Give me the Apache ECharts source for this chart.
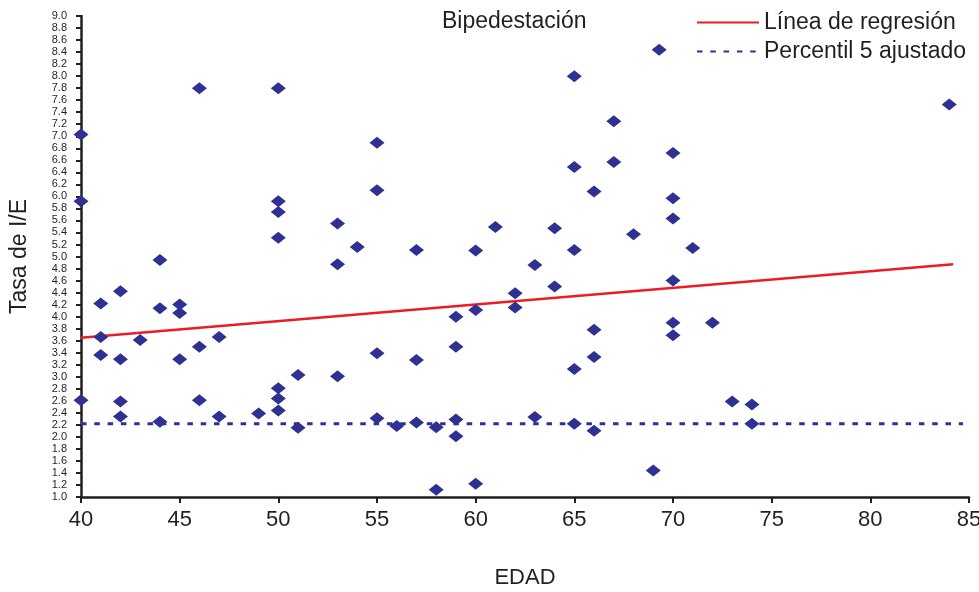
<!DOCTYPE html>
<html>
<head>
<meta charset="utf-8">
<script src="https://cdn.jsdelivr.net/npm/echarts@6/dist/echarts.min.js"></script>
<style>
  html, body { margin: 0; padding: 0; background: #fff; }
  #chart { width: 979px; height: 592px; }
</style>
</head>
<body>
<div id="chart"></div>
<script>
// edad (x) y tasa de I/E (y) de cada sujeto
const edad = [
  40, 40, 40, 41, 41, 41, 42, 42, 42, 42, 43, 44, 44, 44, 45, 45, 45,
  46, 46, 46, 47, 47, 49, 50, 50, 50, 50, 50, 50, 50, 51, 51,
  53, 53, 53, 54, 55, 55, 55, 55, 56, 57, 57, 57, 58, 58,
  59, 59, 59, 59, 60, 60, 60, 61, 62, 62, 63, 63, 64, 64,
  65, 65, 65, 65, 65, 66, 66, 66, 66, 67, 67, 68, 69, 69.3,
  70, 70, 70, 70, 70, 70, 71, 72, 73, 74, 74, 84
];
const tasa = [
  7.03, 5.92, 2.61, 4.22, 3.66, 3.36, 4.42, 3.29, 2.59, 2.34, 3.61, 4.94, 4.14, 2.25, 4.2, 4.06, 3.29,
  7.8, 3.5, 2.61, 3.66, 2.34, 2.39, 7.8, 5.92, 5.74, 5.31, 2.81, 2.64, 2.44, 3.03, 2.15,
  5.55, 4.87, 3.01, 5.16, 6.89, 6.1, 3.39, 2.31, 2.18, 5.11, 3.28, 2.24, 2.16, 1.12,
  4.0, 3.5, 2.29, 2.01, 5.1, 4.11, 1.22, 5.49, 4.39, 4.15, 4.86, 2.33, 5.47, 4.5,
  8.0, 6.49, 5.11, 3.13, 2.22, 6.08, 3.78, 3.33, 2.1, 7.25, 6.57, 5.37, 1.44, 8.44,
  6.72, 5.97, 5.63, 4.6, 3.9, 3.69, 5.14, 3.9, 2.59, 2.54, 2.22, 7.53
];

// extremos de las lineas
const regresionX = [40, 84.2];
const regresionY = [3.65, 4.87];
const percentilX = [40, 84.7];
const percentilY = [2.22, 2.22];

const xTicks = [40, 85, 5];
const yTicks = [1, 9, 0.2];

const puntos = edad.map((x, i) => [x, tasa[i]]);
const regresion = regresionX.map((x, i) => [x, regresionY[i]]);
const percentil = percentilX.map((x, i) => [x, percentilY[i]]);

const chart = echarts.init(document.getElementById('chart'));
const axisColor = '#231f20';

chart.setOption({
  animation: false,
  textStyle: { fontFamily: 'Liberation Sans, Arial, sans-serif', color: axisColor },
  title: {
    text: 'Bipedestación',
    left: 437,
    top: 5,
    textStyle: { fontSize: 23, fontWeight: 'normal', color: axisColor }
  },
  legend: {
    orient: 'vertical',
    left: 691,
    top: 6,
    itemWidth: 62,
    itemHeight: 14,
    itemGap: 6,
    data: [
      { name: 'Línea de regresión', itemStyle: { opacity: 0 } },
      { name: 'Percentil 5 ajustado', itemStyle: { opacity: 0 } }
    ],
    textStyle: { fontSize: 23, color: axisColor }
  },
  grid: { left: 81, right: 10, top: 16, bottom: 95, outerBoundsMode: 'none' },
  xAxis: {
    type: 'value',
    min: xTicks[0],
    max: xTicks[1],
    interval: xTicks[2],
    name: 'EDAD',
    nameLocation: 'middle',
    nameGap: 70,
    nameTextStyle: { fontSize: 22, color: axisColor },
    axisLine: { show: true, lineStyle: { color: axisColor, width: 2.5 } },
    axisTick: { show: true, length: 6, lineStyle: { color: axisColor, width: 2 } },
    axisLabel: { fontSize: 22, color: axisColor, margin: 12 },
    splitLine: { show: false }
  },
  yAxis: {
    type: 'value',
    min: yTicks[0],
    max: yTicks[1],
    interval: yTicks[2],
    name: 'Tasa de I/E',
    nameLocation: 'middle',
    nameGap: 50,
    nameRotate: 90,
    nameTextStyle: { fontSize: 23, color: axisColor },
    axisLine: { show: true, lineStyle: { color: axisColor, width: 2.5 } },
    axisTick: { show: true, length: 5, lineStyle: { color: axisColor, width: 2 } },
    axisLabel: {
      fontSize: 11,
      fontFamily: 'Liberation Sans Narrow, Liberation Sans, sans-serif',
      color: axisColor,
      margin: 14,
      formatter: v => v.toFixed(1)
    },
    splitLine: { show: false }
  },
  series: [
    {
      name: 'Datos',
      type: 'scatter',
      symbol: 'diamond',
      symbolSize: [15, 12],
      itemStyle: { color: '#2e3192', opacity: 1 },
      data: puntos,
      z: 3
    },
    {
      name: 'Línea de regresión',
      type: 'line',
      symbol: 'none',
      lineStyle: { color: '#ed1c24', width: 2.5 },
      itemStyle: { color: '#ed1c24' },
      data: regresion,
      z: 2
    },
    {
      name: 'Percentil 5 ajustado',
      type: 'line',
      symbol: 'none',
      lineStyle: { color: '#2e3192', width: 3, type: [5.5, 7.8] },
      itemStyle: { color: '#2e3192' },
      data: percentil,
      z: 2
    }
  ]
});
</script>
</body>
</html>
